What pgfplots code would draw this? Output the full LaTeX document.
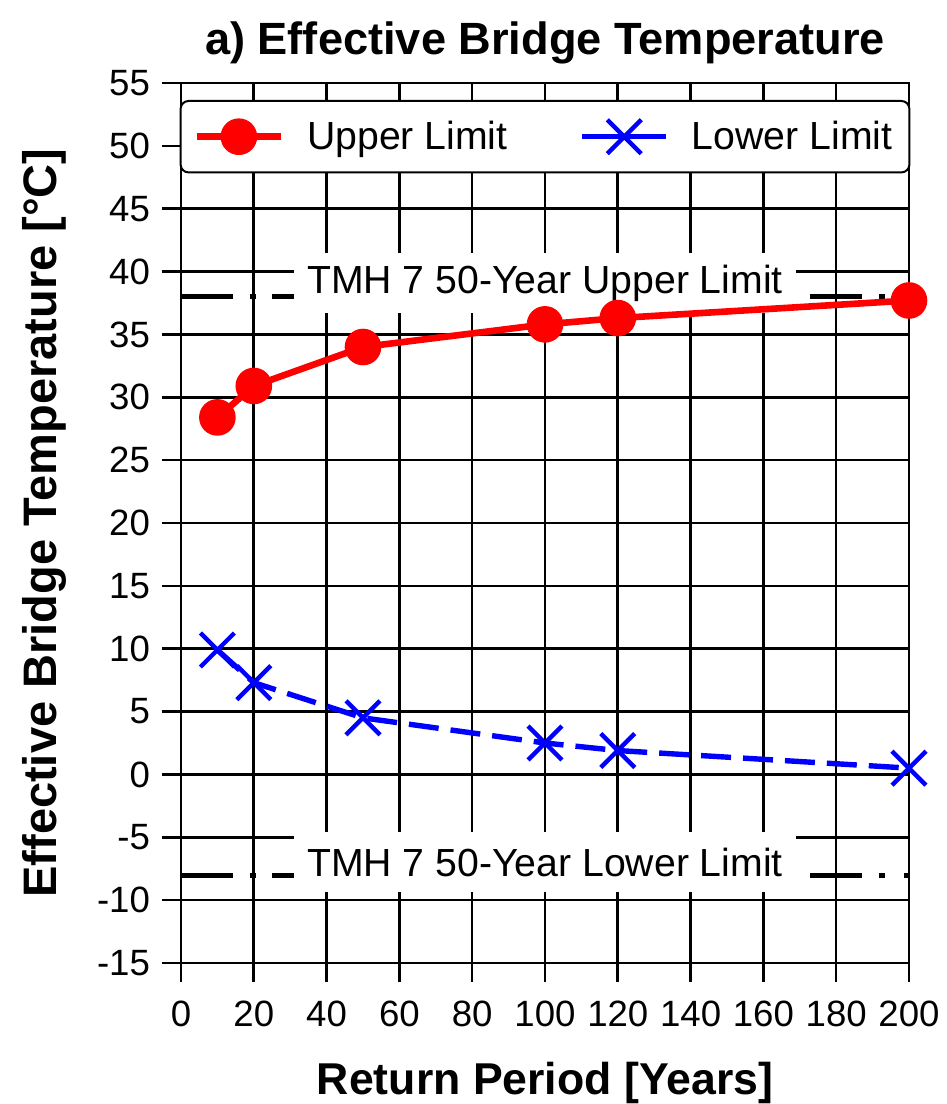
\documentclass[border=0pt]{standalone}
\usepackage{fontspec}
\setmainfont{Liberation Sans}
\usepackage{pgfplots}
\pgfplotsset{compat=1.18}
\begin{document}
\begin{tikzpicture}
\begin{axis}[
  name=ax,
  scale only axis,
  width=364pt, height=440pt,
  xmin=0, xmax=200, ymin=-15, ymax=55,
  xtick={0,20,...,200}, ytick={-15,-10,...,55},
  grid=major,
  major grid style={black, line width=1.3pt},
  axis line style={black, line width=1.3pt},
  tick style={black, line width=1.3pt},
  tick align=outside,
  major tick length=9.5pt,
  xtick pos=left, ytick pos=left,
  /pgf/number format/assume math mode=true,
  ticklabel style={font=\fontsize{18.3}{18}\selectfont},
  xticklabel style={yshift=-6pt},
  yticklabel style={xshift=-2.5pt},
  title={a) Effective Bridge Temperature},
  title style={font=\bfseries\fontsize{22.6}{22}\selectfont, at={(axis description cs:0.5,1)}, anchor=base, yshift=8pt},
  xlabel={Return Period [Years]},
  xlabel style={font=\bfseries\fontsize{22.3}{22}\selectfont, at={(axis description cs:0.5,0)}, anchor=base, yshift=-65.5pt},
  ylabel={Effective Bridge Temperature [°C]},
  ylabel style={font=\bfseries\fontsize{23.5}{22}\selectfont, at={([xshift=-62pt]axis description cs:0,0.5)}, anchor=base},
  legend columns=2,
  legend cell align=left,
  legend style={at={(axis description cs:0.5,1)}, anchor=north, yshift=-8.5pt,
    draw=black, line width=1pt, rounded corners=4pt, fill=white,
    inner xsep=6.5pt, inner ysep=8pt,
    font=\fontsize{19.6}{19}\selectfont,
    /tikz/every odd column/.append style={column sep=9.5pt},
    /tikz/every even column/.append style={column sep=34pt}},
  legend image code/.code={\draw[#1, solid, mark repeat=2, mark phase=2] plot coordinates {(0pt,0pt) (21pt,0pt) (42pt,0pt)};},
]
% TMH 7 limit lines
\addplot[forget plot, black, line width=2.5pt, dash pattern=on 26pt off 8.5pt on 3pt off 8pt] coordinates {(0,38) (31.3,38)};
\addplot[forget plot, black, line width=2.5pt, dash pattern=on 26pt off 8.5pt on 3pt off 9.5pt on 3pt off 6.5pt, dash phase=50pt] coordinates {(169.2,38) (200,38)};
\addplot[forget plot, black, line width=2.5pt, dash pattern=on 26pt off 8.5pt on 3pt off 8pt] coordinates {(0,-8) (31.3,-8)};
\addplot[forget plot, black, line width=2.5pt, dash pattern=on 26pt off 8.5pt on 3pt off 9.5pt on 3pt off 6.5pt, dash phase=50pt] coordinates {(169.2,-8) (200,-8)};
\node[fill=white, inner sep=0pt, minimum width=251pt, minimum height=30pt, font=\fontsize{19.6}{19}\selectfont] at (axis cs:100,39.1) {TMH 7 50-Year Upper Limit};
\node[fill=white, inner sep=0pt, minimum width=251pt, minimum height=30pt, font=\fontsize{19.6}{19}\selectfont] at (axis cs:100,-7.0) {TMH 7 50-Year Lower Limit};
% data
\addplot[red, line width=3.3pt, mark=*, mark size=7.5pt, mark options={solid, fill=red}]
  coordinates {(10,28.4) (20,30.9) (50,34.0) (100,35.8) (120,36.3) (200,37.7)};
\addlegendentry{Upper Limit}
\addplot[blue, line width=2.7pt, dash pattern=on 15pt off 6pt, mark=x, mark size=12pt, mark options={solid, line width=2.2pt}]
  coordinates {(10,9.9) (20,7.3) (50,4.5) (100,2.5) (120,1.9) (200,0.5)};
\addlegendentry{Lower Limit}
\end{axis}
\pgfresetboundingbox
\path[use as bounding box] ([shift={(-90.5pt,-70.5pt)}]ax.south west) rectangle ([shift={(19pt,41.5pt)}]ax.north east);
\end{tikzpicture}
\end{document}
